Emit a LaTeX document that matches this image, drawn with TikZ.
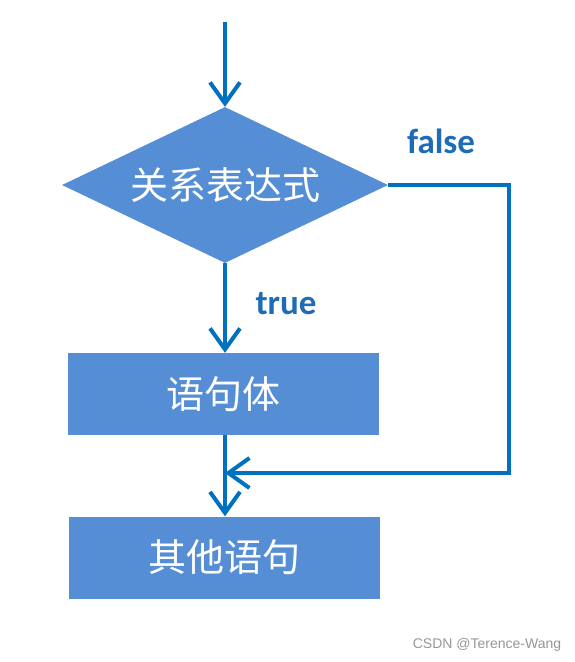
\documentclass[tikz,border=0pt]{standalone}
\usepackage{fontspec}
\setmainfont{Carlito}
\newfontfamily\cjk{Noto Sans CJK SC}
\newfontfamily\wmfont{Liberation Sans}
\usepackage{tikz}
\definecolor{boxblue}{RGB}{85, 142, 213}
\definecolor{lineblue}{RGB}{0, 112, 192}
\definecolor{lblblue}{RGB}{31, 108, 182}
\definecolor{wmgray}{RGB}{150, 150, 150}
\usetikzlibrary{shapes.geometric}
\usetikzlibrary{arrows.meta}

\begin{document}
\begin{tikzpicture}[x=1pt, y=1pt,
every node/.style={inner sep=0pt},
cjktext/.style={text=white, font=\cjk\fontsize{38}{42}\selectfont},
procbox/.style={rectangle, minimum width=311pt, minimum height=82pt, fill=boxblue, cjktext},
condbox/.style={diamond, aspect=2, minimum width=326pt, minimum height=156pt, fill=boxblue, cjktext},
flow/.style={line width=4pt, color=lineblue, -{Straight Barb[length=21pt, width=30pt]}},
lbl/.style={text=lblblue, font=\bfseries\fontsize{35}{38}\selectfont}]
\useasboundingbox (0pt, 0pt) rectangle (574pt, -662pt);
\coordinate (start) at (225pt, -22pt);
\node (cond) [condbox] at (225pt, -185pt) {关系表达式};
\node (body) [procbox] at (223pt, -394pt) {语句体};
\node (other) [procbox] at (224.5pt, -557.5pt) {其他语句};
\node (truelbl) [lbl] at (286pt, -304pt) {true};
\node (falselbl) [lbl] at (441pt, -141pt) {false};
\coordinate (bend) at (509pt, -473pt);
\coordinate (merge) at (225pt, -473pt);
\draw [flow] (start) to (cond.north);
\draw [flow] (cond.south) to (cond.south |- body.north);
\draw [flow] (cond.south |- body.south) to (cond.south |- other.north);
\draw [flow] (cond.east) -| (bend) -- (merge);
\node (mark) [text=wmgray, font=\wmfont\fontsize{14}{16}\selectfont] at (487pt, -645pt) {CSDN @Terence-Wang};
\end{tikzpicture}
\end{document}
